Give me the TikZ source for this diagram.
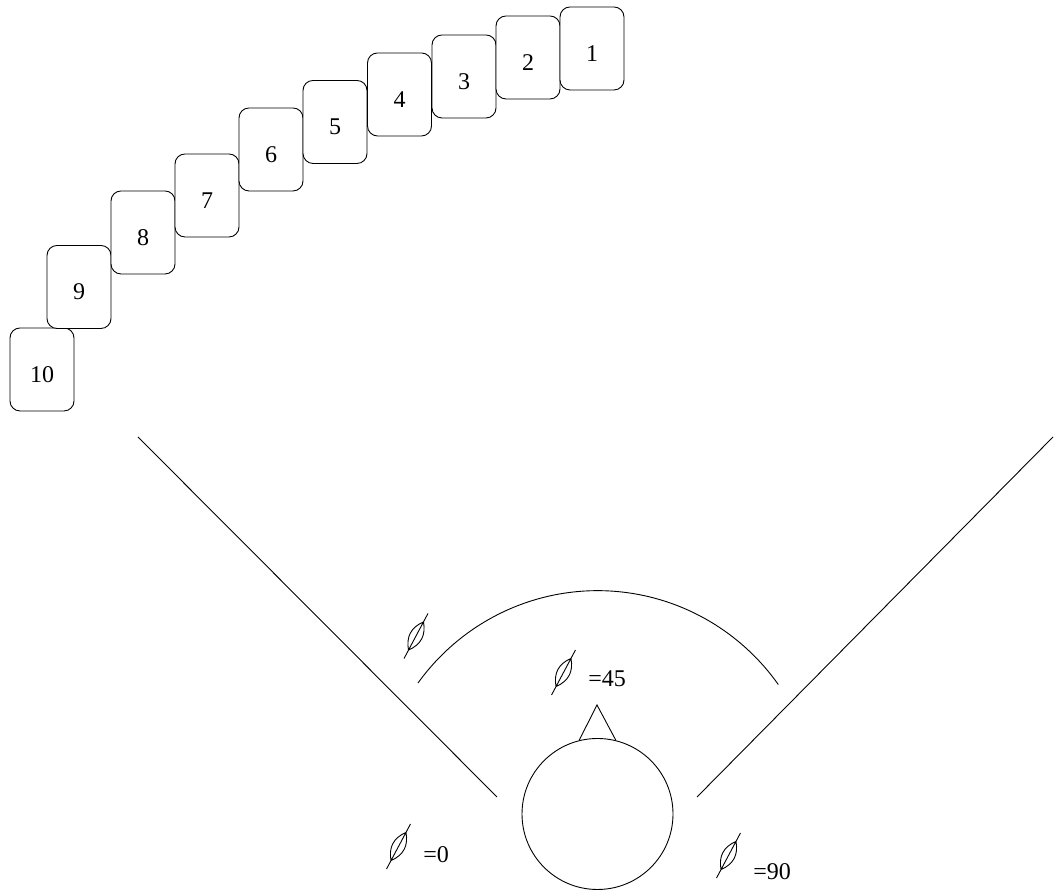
\documentclass[tikz,border=0pt]{standalone}
\usepackage{fontspec}
\setmainfont{Liberation Serif}
\begin{document}
\begin{tikzpicture}[x=1pt,y=1pt,line width=0.9pt,
  card/.style={draw, rounded corners=10pt, minimum width=64pt, minimum height=83pt,
    inner sep=0pt, fill=white, text height=26pt, text depth=0pt,
    font=\fontsize{24}{28}\selectfont},
  lbl/.style={inner sep=0pt, anchor=west, font=\fontsize{24}{28}\selectfont},
  phisym/.pic={\draw[rotate=62] (-25.5,0)--(25.5,0)
      (-16,0) .. controls (-5,8.5) and (5,8.5) .. (16,0)
      .. controls (5,-8.5) and (-5,-8.5) .. (-16,0);}
]
\useasboundingbox (0,0) rectangle (1055,890);
% cards
\node[card] (c10) at (42,520.5) {10};
\node[card] (c9) at (79,603) {9};
\node[card] (c8) at (143,657.5) {8};
\node[card] (c7) at (207,694.5) {7};
\node[card] (c6) at (271,740.5) {6};
\node[card] (c5) at (335,768) {5};
\node[card] (c4) at (399.5,795.5) {4};
\node[card] (c3) at (464,813.5) {3};
\node[card] (c2) at (528,832.5) {2};
\node[card] (c1) at (592,841.5) {1};
% field lines
\coordinate (l1) at (138,453);
\coordinate (l2) at (497,93);
\coordinate (r1) at (1053,453);
\coordinate (r2) at (697,93);
\draw (l1) -- (l2);
\draw (r1) -- (r2);
% circle and pointer
\node[draw, circle, minimum size=151pt, inner sep=0pt] (ball) at (597.5,76) {};
\coordinate (apex) at (597,185);
\draw (ball.104) -- (apex) -- (ball.76);
% arc
\coordinate (arcstart) at (418,207);
\draw (arcstart) arc[start angle=144, end angle=35.5, x radius=222, y radius=224];
% phi symbols
\pic at (416,254) {phisym};
\pic at (563.5,217.5) {phisym};
\pic at (398.5,43.5) {phisym};
\pic at (728.5,34.5) {phisym};
% labels
\node[lbl] (t45) at (588,211) {=45};
\node[lbl] (t0) at (423,35.5) {=0};
\node[lbl] (t90) at (753,18.5) {=90};
\end{tikzpicture}
\end{document}
